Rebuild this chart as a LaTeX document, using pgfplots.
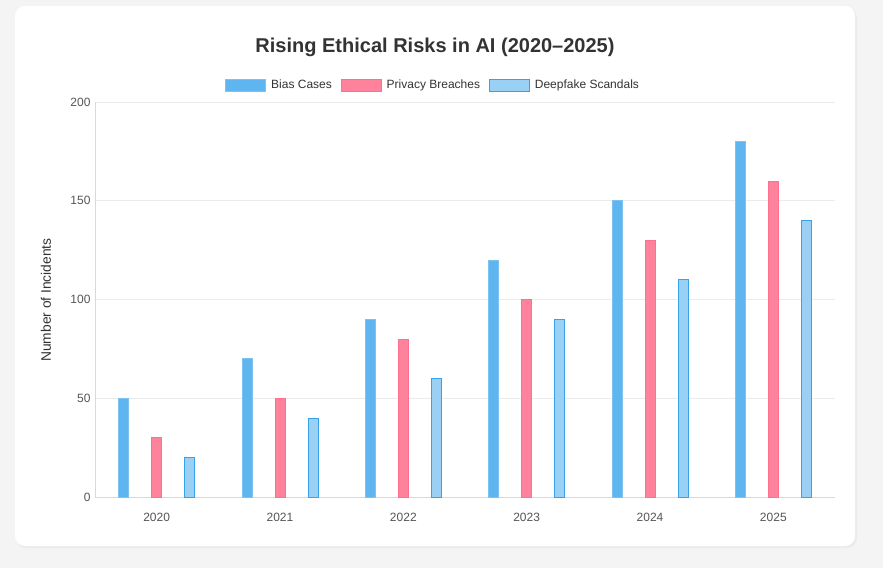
\documentclass[border=0pt]{standalone}
\usepackage{pgfplots}
\pgfplotsset{compat=1.18}
\usepackage{fontspec}
\setmainfont{Liberation Sans}

\definecolor{pagebg}{HTML}{F4F4F4}
\definecolor{biasfill}{HTML}{5EB5EF}
\definecolor{biasline}{HTML}{7CC3F2}
\definecolor{privfill}{HTML}{FF829D}
\definecolor{privline}{HTML}{FF6F8E}
\definecolor{deepfill}{HTML}{9BD0F5}
\definecolor{deepline}{HTML}{36A2EB}
\definecolor{gridc}{HTML}{EBEBEB}
\definecolor{axisc}{HTML}{D9D9D9}
\definecolor{tickc}{HTML}{555555}
\definecolor{titlec}{HTML}{333333}

\pgfplotstableread{
x bias privacy deepfake
0 50 30 20
1 70 50 40
2 90 80 60
3 120 100 90
4 150 130 110
5 180 160 140
}\risks

\begin{document}
\begin{tikzpicture}[x=1pt,y=1pt]
  % page and card
  \fill[pagebg] (0,0) rectangle (883,-568);
  \fill[black!8] (16,-8) [rounded corners=10pt] rectangle (857,-548);
  \fill[white, rounded corners=10pt] (15,-6) rectangle (855,-546);

  \node[font=\bfseries\fontsize{20}{24}\selectfont, text=titlec] at (435,-47)
    {Rising Ethical Risks in AI (2020–2025)};
  \node[rotate=90, font=\fontsize{13.8}{16}\selectfont, text=titlec] at (46,-300)
    {Number of Incidents};

  \begin{axis}[
    at={(95pt,-497pt)}, anchor=south west,
    scale only axis, width=740pt, height=395pt,
    ybar=23pt, bar width=10pt,
    xmin=-0.5, xmax=5.5, ymin=0, ymax=200,
    xtick={0,...,5}, xticklabels={2020,2021,2022,2023,2024,2025},
    ytick={0,50,...,200},
    major x tick style={draw=none},
    ytick style={draw=gridc, line width=0.8pt},
    major tick length=9pt,
    ymajorgrids, grid style={draw=gridc, line width=0.8pt},
    axis line style={draw=axisc, line width=0.9pt},
    axis x line*=bottom, axis y line*=left,
    separate axis lines,
    x axis line style={-}, y axis line style={-},
    tick label style={font=\fontsize{12}{14}\selectfont, text=tickc},
    /pgf/number format/assume math mode=true,
    xticklabel style={yshift=-4pt},
    yticklabel style={xshift=-1pt},
    legend columns=3,
    legend style={at={(0.457,1.043)}, anchor=center, draw=none, fill=none,
      font=\fontsize{12}{14}\selectfont, text=titlec,
      /tikz/every odd column/.append style={column sep=3pt},
      /tikz/every even column/.append style={column sep=7pt}},
    legend image code/.code={\draw[#1] (0pt,-6pt) rectangle (40pt,6pt);},
  ]
    \addplot[fill=biasfill, draw=biasline, line width=0.8pt] table[x=x, y=bias] {\risks};
    \addlegendentry{Bias Cases}
    \addplot[fill=privfill, draw=privline, line width=0.8pt] table[x=x, y=privacy] {\risks};
    \addlegendentry{Privacy Breaches}
    \addplot[fill=deepfill, draw=deepline, line width=0.8pt] table[x=x, y=deepfake] {\risks};
    \addlegendentry{Deepfake Scandals}
  \end{axis}
\end{tikzpicture}
\end{document}
